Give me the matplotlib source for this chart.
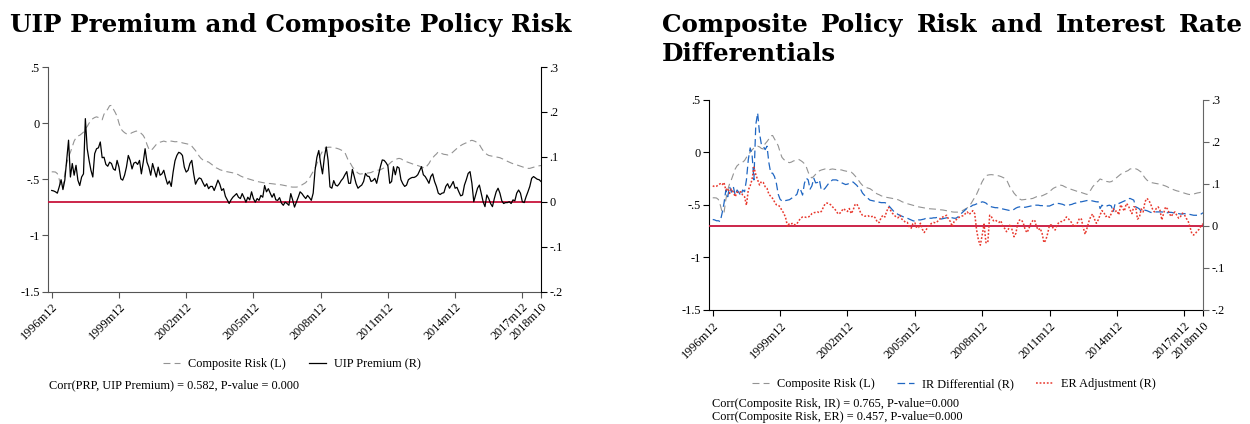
import matplotlib
matplotlib.use("Agg")
import matplotlib.pyplot as plt
import numpy as np

plt.rcParams["font.family"] = ["Liberation Serif", "DejaVu Serif"]
plt.rcParams["lines.scale_dashes"] = False

# ---------------------------------------------------------------- data
# monthly observations, 1996m12 .. 2018m10
DATE_TICKS = [0, 36, 72, 108, 144, 180, 216, 252, 262]
DATE_LABELS = ["1996m12", "1999m12", "2002m12", "2005m12", "2008m12",
               "2011m12", "2014m12", "2017m12", "2018m10"]
LEFT_TICKS = [0.5, 0, -0.5, -1, -1.5]
LEFT_LABELS = [".5", "0", "-.5", "-1", "-1.5"]
RIGHT_TICKS = [0.3, 0.2, 0.1, 0, -0.1, -0.2]
RIGHT_LABELS = [".3", ".2", ".1", "0", "-.1", "-.2"]

composite_risk = [
    -0.434, -0.434, -0.436, -0.45, -0.50, -0.57, -0.58, -0.45, -0.36, -0.30,
    -0.26, -0.21, -0.16, -0.13, -0.115, -0.108, -0.095, -0.08, -0.05, -0.03,
    0.0, 0.02, 0.04, 0.05, 0.056, 0.05, 0.035, 0.03, 0.08, 0.10,
    0.125, 0.155, 0.158, 0.125, 0.095, 0.06, 0.0, -0.05, -0.07, -0.085,
    -0.095, -0.100, -0.095, -0.085, -0.078, -0.072, -0.070, -0.080, -0.093, -0.11,
    -0.14, -0.19, -0.23, -0.245, -0.23, -0.21, -0.19, -0.178, -0.17, -0.165,
    -0.16, -0.165, -0.17, -0.163, -0.16, -0.163, -0.166, -0.165, -0.167, -0.170,
    -0.176, -0.18, -0.185, -0.187, -0.19, -0.205, -0.225, -0.245, -0.27, -0.295,
    -0.315, -0.328, -0.335, -0.342, -0.347, -0.36, -0.372, -0.388, -0.398, -0.405,
    -0.415, -0.42, -0.425, -0.43, -0.433, -0.436, -0.44, -0.443, -0.447, -0.452,
    -0.46, -0.47, -0.478, -0.485, -0.49, -0.495, -0.50, -0.505, -0.51, -0.515,
    -0.52, -0.523, -0.527, -0.53, -0.533, -0.537, -0.538, -0.538, -0.54, -0.542,
    -0.545, -0.547, -0.548, -0.55, -0.553, -0.556, -0.56, -0.564, -0.568, -0.57,
    -0.57, -0.57, -0.567, -0.56, -0.55, -0.54, -0.53, -0.51, -0.49, -0.46,
    -0.43, -0.40, -0.36, -0.32, -0.28, -0.25, -0.225, -0.218, -0.215, -0.214,
    -0.216, -0.218, -0.222, -0.226, -0.232, -0.240, -0.248, -0.262, -0.30, -0.34,
    -0.36, -0.39, -0.41, -0.43, -0.445, -0.454, -0.452, -0.450, -0.447, -0.445,
    -0.443, -0.440, -0.432, -0.424, -0.422, -0.418, -0.415, -0.407, -0.398, -0.39,
    -0.375, -0.36, -0.344, -0.335, -0.327, -0.318, -0.314, -0.318, -0.328, -0.336,
    -0.344, -0.350, -0.356, -0.362, -0.368, -0.374, -0.378, -0.384, -0.390, -0.395,
    -0.402, -0.38, -0.36, -0.33, -0.31, -0.29, -0.275, -0.255, -0.262, -0.272,
    -0.278, -0.28, -0.284, -0.280, -0.27, -0.255, -0.24, -0.225, -0.21, -0.20,
    -0.19, -0.183, -0.175, -0.160, -0.158, -0.153, -0.158, -0.165, -0.178, -0.19,
    -0.22, -0.245, -0.265, -0.278, -0.288, -0.292, -0.295, -0.298, -0.300, -0.305,
    -0.308, -0.316, -0.322, -0.33, -0.34, -0.348, -0.355, -0.362, -0.368, -0.372,
    -0.378, -0.385, -0.39, -0.395, -0.40, -0.403, -0.403, -0.398, -0.392, -0.388,
    -0.385, -0.38, -0.378,
]

uip_premium = [
    0.025, 0.024, 0.022, 0.019, 0.033, 0.049, 0.027, 0.048, 0.092, 0.137,
    0.055, 0.085, 0.059, 0.081, 0.048, 0.036, 0.055, 0.062, 0.185, 0.118,
    0.092, 0.070, 0.055, 0.107, 0.118, 0.120, 0.133, 0.098, 0.099, 0.083,
    0.079, 0.088, 0.085, 0.073, 0.070, 0.092, 0.077, 0.051, 0.048, 0.059,
    0.077, 0.103, 0.092, 0.073, 0.086, 0.088, 0.083, 0.092, 0.062, 0.088,
    0.118, 0.088, 0.077, 0.059, 0.085, 0.070, 0.055, 0.077, 0.059, 0.062,
    0.070, 0.053, 0.039, 0.046, 0.034, 0.066, 0.091, 0.103, 0.110, 0.108,
    0.103, 0.077, 0.066, 0.070, 0.085, 0.092, 0.062, 0.039, 0.048, 0.053,
    0.051, 0.042, 0.034, 0.040, 0.029, 0.034, 0.034, 0.025, 0.036, 0.048,
    0.039, 0.025, 0.029, 0.012, 0.004, -0.004, 0.004, 0.010, 0.014, 0.018,
    0.010, 0.007, 0.018, 0.009, -0.001, 0.010, 0.004, 0.022, 0.007, -0.001,
    0.007, 0.003, 0.014, 0.010, 0.036, 0.022, 0.029, 0.019, 0.010, 0.018,
    0.004, 0.003, 0.009, -0.003, -0.008, -0.001, -0.004, -0.008, 0.018, 0.004,
    -0.012, -0.001, 0.010, 0.022, 0.018, 0.012, 0.007, 0.014, 0.009, 0.003,
    0.019, 0.070, 0.099, 0.114, 0.085, 0.062, 0.099, 0.122, 0.092, 0.033,
    0.030, 0.047, 0.037, 0.035, 0.040, 0.047, 0.052, 0.060, 0.067, 0.041,
    0.041, 0.072, 0.056, 0.040, 0.030, 0.034, 0.037, 0.045, 0.063, 0.057,
    0.056, 0.045, 0.047, 0.052, 0.041, 0.060, 0.078, 0.093, 0.092, 0.087,
    0.080, 0.041, 0.045, 0.078, 0.060, 0.078, 0.075, 0.049, 0.040, 0.034,
    0.037, 0.049, 0.052, 0.054, 0.054, 0.056, 0.060, 0.069, 0.078, 0.060,
    0.056, 0.049, 0.041, 0.056, 0.062, 0.045, 0.034, 0.019, 0.016, 0.019,
    0.020, 0.034, 0.040, 0.030, 0.037, 0.045, 0.030, 0.032, 0.022, 0.013,
    0.015, 0.037, 0.049, 0.063, 0.067, 0.041, 0.000, 0.015, 0.030, 0.037,
    0.019, 0.000, -0.011, 0.015, 0.007, -0.004, -0.011, 0.007, 0.022, 0.030,
    0.019, 0.002, -0.004, -0.002, -0.002, 0.000, -0.004, 0.004, 0.002, 0.019,
    0.026, 0.019, 0.000, -0.002, 0.011, 0.022, 0.034, 0.052, 0.056, 0.053,
    0.050, 0.049, 0.045,
]

ir_differential = [
    0.015, 0.014, 0.012, 0.012, 0.010, 0.030, 0.053, 0.085, 0.069, 0.093,
    0.080, 0.093, 0.073, 0.085, 0.079, 0.072, 0.085, 0.081, 0.109, 0.157,
    0.185, 0.170, 0.109, 0.240, 0.268, 0.220, 0.193, 0.189, 0.181, 0.189,
    0.150, 0.125, 0.125, 0.117, 0.101, 0.075, 0.063, 0.059, 0.061, 0.060,
    0.061, 0.062, 0.065, 0.068, 0.071, 0.075, 0.090, 0.085, 0.073, 0.101,
    0.113, 0.109, 0.087, 0.095, 0.113, 0.102, 0.103, 0.109, 0.085, 0.085,
    0.089, 0.095, 0.101, 0.105, 0.109, 0.109, 0.109, 0.107, 0.105, 0.102,
    0.100, 0.098, 0.099, 0.101, 0.103, 0.104, 0.100, 0.096, 0.090, 0.087,
    0.078, 0.073, 0.069, 0.065, 0.061, 0.060, 0.059, 0.058, 0.057, 0.056,
    0.055, 0.055, 0.055, 0.053, 0.048, 0.043, 0.038, 0.033, 0.031, 0.027,
    0.025, 0.023, 0.021, 0.019, 0.018, 0.016, 0.014, 0.012, 0.011, 0.012,
    0.014, 0.014, 0.015, 0.016, 0.018, 0.018, 0.018, 0.018, 0.019, 0.019,
    0.020, 0.020, 0.016, 0.017, 0.018, 0.019, 0.020, 0.020, 0.019, 0.018,
    0.018, 0.021, 0.025, 0.030, 0.034, 0.038, 0.042, 0.045, 0.046, 0.049,
    0.050, 0.052, 0.054, 0.055, 0.057, 0.056, 0.054, 0.050, 0.047, 0.045,
    0.044, 0.043, 0.043, 0.042, 0.041, 0.040, 0.039, 0.038, 0.037, 0.036,
    0.037, 0.039, 0.042, 0.044, 0.045, 0.045, 0.044, 0.044, 0.045, 0.046,
    0.047, 0.048, 0.049, 0.049, 0.049, 0.048, 0.048, 0.047, 0.047, 0.047,
    0.047, 0.049, 0.051, 0.053, 0.053, 0.053, 0.052, 0.051, 0.049, 0.049,
    0.049, 0.050, 0.051, 0.053, 0.054, 0.056, 0.057, 0.057, 0.058, 0.059,
    0.060, 0.060, 0.060, 0.059, 0.058, 0.057, 0.057, 0.041, 0.049, 0.046,
    0.045, 0.048, 0.049, 0.047, 0.033, 0.052, 0.052, 0.053, 0.055, 0.057,
    0.059, 0.061, 0.064, 0.065, 0.063, 0.061, 0.045, 0.043, 0.040, 0.034,
    0.036, 0.037, 0.036, 0.034, 0.032, 0.031, 0.032, 0.033, 0.033, 0.033,
    0.033, 0.032, 0.031, 0.031, 0.032, 0.032, 0.031, 0.030, 0.029, 0.029,
    0.028, 0.028, 0.029, 0.028, 0.028, 0.027, 0.026, 0.025, 0.025, 0.025,
    0.026, 0.028, 0.031,
]

er_adjustment = [
    0.095, 0.093, 0.094, 0.097, 0.100, 0.097, 0.103, 0.085, 0.089, 0.077,
    0.087, 0.080, 0.069, 0.080, 0.078, 0.081, 0.073, 0.069, 0.049, 0.085,
    0.095, 0.110, 0.139, 0.122, 0.109, 0.097, 0.105, 0.103, 0.093, 0.089,
    0.075, 0.070, 0.065, 0.057, 0.050, 0.049, 0.045, 0.036, 0.030, 0.018,
    -0.002, 0.006, 0.005, 0.006, 0.002, 0.005, 0.012, 0.018, 0.021, 0.021,
    0.020, 0.021, 0.023, 0.029, 0.031, 0.032, 0.033, 0.031, 0.034, 0.043,
    0.052, 0.054, 0.053, 0.050, 0.045, 0.041, 0.035, 0.028, 0.030, 0.036,
    0.041, 0.036, 0.034, 0.041, 0.029, 0.037, 0.050, 0.052, 0.043, 0.031,
    0.025, 0.023, 0.023, 0.024, 0.021, 0.022, 0.023, 0.018, 0.008, 0.008,
    0.020, 0.025, 0.021, 0.035, 0.044, 0.037, 0.030, 0.025, 0.021, 0.019,
    0.025, 0.016, 0.013, 0.008, 0.008, -0.002, -0.006, 0.005, 0.007, -0.005,
    -0.004, 0.006, -0.008, -0.016, -0.010, -0.002, 0.002, 0.006, 0.008, 0.007,
    0.010, 0.014, 0.020, 0.021, 0.023, 0.025, 0.016, 0.010, -0.002, 0.010,
    0.014, 0.018, 0.021, 0.023, 0.024, 0.029, 0.033, 0.027, 0.031, 0.036,
    0.029, -0.010, -0.034, -0.046, -0.022, 0.004, -0.040, -0.040, 0.025, 0.021,
    0.012, 0.014, 0.010, 0.008, 0.012, -0.002, -0.006, -0.014, -0.008, 0.004,
    -0.010, -0.026, -0.018, 0.006, 0.014, 0.014, 0.006, -0.010, -0.016, -0.006,
    0.006, 0.012, 0.014, -0.002, -0.010, -0.006, -0.018, -0.040, -0.034, -0.018,
    0.002, 0.002, -0.006, -0.010, 0.002, 0.008, 0.010, 0.010, 0.014, 0.021,
    0.017, 0.012, 0.006, -0.002, 0.000, 0.008, 0.018, 0.016, -0.004, -0.020,
    -0.006, 0.010, 0.022, 0.028, 0.016, 0.006, 0.014, 0.026, 0.036, 0.032,
    0.022, 0.024, 0.020, 0.029, 0.041, 0.034, 0.036, 0.026, 0.050, 0.042,
    0.035, 0.053, 0.049, 0.038, 0.029, 0.045, 0.045, 0.016, 0.020, 0.040,
    0.033, 0.057, 0.065, 0.061, 0.052, 0.040, 0.033, 0.041, 0.045, 0.037,
    0.014, 0.030, 0.045, 0.040, 0.029, 0.022, 0.029, 0.033, 0.025, 0.018,
    0.022, 0.030, 0.027, 0.018, 0.012, -0.002, -0.018, -0.022, -0.018, -0.012,
    -0.008, 0.000, 0.005,
]

months = np.arange(len(composite_risk))

# ---------------------------------------------------------------- style
W, H = 1250, 424
FS = 8.8
GRAY = "#939393"
BLUE = "#1f66c2"
RED = "#e8382d"
ZERO = "#c8143c"
GRAY_DASH = (0, (5.0, 3.0))
BLUE_DASH = (0, (5.5, 2.8))
RED_DOT = (0, (1.3, 1.3))


def px_axes(fig, x0, y0, x1, y1):
    """Axes placed by pixel box (top-left origin)."""
    return fig.add_axes([x0 / W, 1 - y1 / H, (x1 - x0) / W, (y1 - y0) / H])


def style_pair(ax, axr, left_spine_color, right_spine_color):
    ax.set_xlim(-2, 262)
    ax.set_ylim(-1.5, 0.5)
    axr.set_ylim(-0.2, 0.3)
    ax.set_yticks(LEFT_TICKS)
    ax.set_yticklabels(LEFT_LABELS)
    axr.set_yticks(RIGHT_TICKS)
    axr.set_yticklabels(RIGHT_LABELS)
    ax.set_xticks(DATE_TICKS)
    ax.set_xticklabels(DATE_LABELS)
    for lbl in ax.get_xticklabels():
        lbl.set_rotation(45)
        lbl.set_ha("right")
        lbl.set_va("top")
        lbl.set_rotation_mode("anchor")
    ax.spines["top"].set_visible(False)
    ax.spines["right"].set_visible(False)
    for s in ("top", "left", "bottom"):
        axr.spines[s].set_visible(False)
    ax.spines["left"].set_color(left_spine_color)
    ax.spines["bottom"].set_color(left_spine_color)
    axr.spines["right"].set_color(right_spine_color)
    for sp in list(ax.spines.values()) + list(axr.spines.values()):
        sp.set_linewidth(0.8)
    ax.tick_params(axis="y", direction="out", length=4, width=0.8, pad=2,
                   labelsize=FS, color=left_spine_color)
    ax.tick_params(axis="x", direction="out", length=4, width=0.8, pad=3,
                   labelsize=FS, color=left_spine_color)
    axr.tick_params(axis="y", direction="out", length=4, width=0.8, pad=2,
                    labelsize=FS, color=right_spine_color)
    ax.patch.set_visible(False)


fig = plt.figure(figsize=(W / 100, H / 100), dpi=100)
renderer = fig.canvas.get_renderer()

# ---------------------------------------------------------------- left panel
ax1 = px_axes(fig, 48, 67, 541, 291.5)
ax1r = ax1.twinx()
style_pair(ax1, ax1r, "#555555", "#000000")

l_comp1, = ax1.plot(months, composite_risk, color=GRAY, lw=0.8,
                    linestyle=GRAY_DASH, label="Composite Risk (L)")
ax1r.axhline(0, color=ZERO, lw=1.3, zorder=1)
l_uip, = ax1r.plot(months, uip_premium, color="black", lw=0.9,
                   label="UIP Premium (R)", zorder=2)

ax1.legend(handles=[l_comp1, l_uip], loc="center",
           bbox_to_anchor=(292 / W, 1 - 364 / H), bbox_transform=fig.transFigure,
           ncol=2, frameon=False, fontsize=FS, handlelength=1.4,
           handletextpad=0.65, columnspacing=1.9, borderpad=0)
fig.text(49 / W, 1 - 385 / H, "Corr(PRP, UIP Premium) = 0.582, P-value = 0.000",
         fontsize=FS, va="center", ha="left")

# ---------------------------------------------------------------- right panel
ax2 = px_axes(fig, 709, 99.5, 1203, 310)
ax2r = ax2.twinx()
style_pair(ax2, ax2r, "#000000", "#666666")

l_comp2, = ax2.plot(months, composite_risk, color=GRAY, lw=0.8,
                    linestyle=GRAY_DASH, label="Composite Risk (L)")
ax2r.axhline(0, color=ZERO, lw=1.3, zorder=1)
l_ir, = ax2r.plot(months, ir_differential, color=BLUE, lw=0.9,
                  linestyle=BLUE_DASH, label="IR Differential (R)", zorder=2)
l_er, = ax2r.plot(months, er_adjustment, color=RED, lw=1.1,
                  linestyle=RED_DOT, label="ER Adjustment (R)", zorder=3)

ax2.legend(handles=[l_comp2, l_ir, l_er], loc="center",
           bbox_to_anchor=(954 / W, 1 - 384 / H), bbox_transform=fig.transFigure,
           ncol=3, frameon=False, fontsize=FS, handlelength=1.4,
           handletextpad=0.65, columnspacing=1.8, borderpad=0)
fig.text(712 / W, 1 - 404 / H, "Corr(Composite Risk, IR) = 0.765, P-value=0.000",
         fontsize=FS, va="center", ha="left")
fig.text(712 / W, 1 - 417 / H, "Corr(Composite Risk, ER) = 0.457, P-value=0.000",
         fontsize=FS, va="center", ha="left")

# ---------------------------------------------------------------- titles
TITLE_KW = dict(family="DejaVu Serif", weight="bold", va="baseline", ha="left")

t_left = fig.text(10 / W, 1 - 32 / H, "UIP Premium and Composite Policy Risk",
                  fontsize=16, **TITLE_KW)
w = t_left.get_window_extent(renderer).width
title_fs = 16 * (562 / w)
t_left.set_fontsize(title_fs)

# first line of the right title is set flush to both margins
words = "Composite Policy Risk and Interest Rate".split()
x_start, x_end = 662, 1243
word_texts = [fig.text(0, 1 - 32 / H, wd, fontsize=title_fs, **TITLE_KW) for wd in words]
widths = [t.get_window_extent(renderer).width for t in word_texts]
gap = (x_end - x_start - sum(widths)) / (len(words) - 1)
x = x_start
for t, wd in zip(word_texts, widths):
    t.set_x(x / W)
    x += wd + gap
fig.text(x_start / W, 1 - 61 / H, "Differentials", fontsize=title_fs, **TITLE_KW)

fig.savefig("out.png", dpi=100)
